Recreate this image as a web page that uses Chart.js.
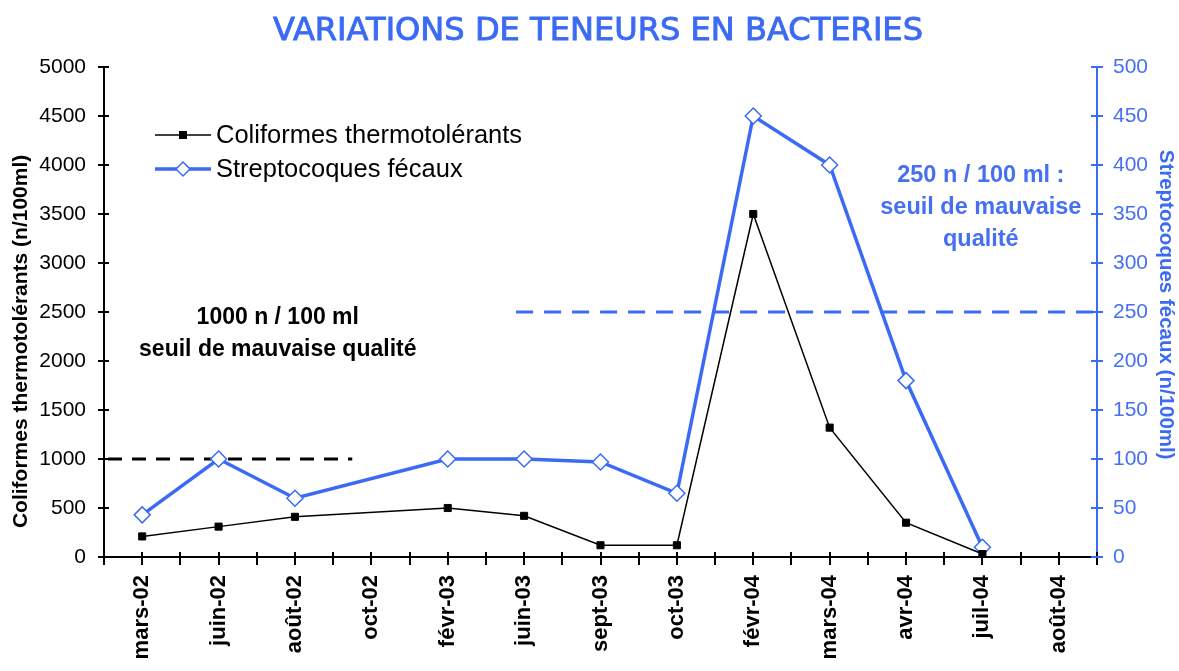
<!DOCTYPE html>
<html>
<head>
<meta charset="utf-8">
<script src="https://cdn.jsdelivr.net/npm/chart.js@4.4.1/dist/chart.umd.min.js"></script>
<style>
  html, body { margin: 0; padding: 0; background: #fff; }
  #wrap { width: 1179px; height: 671px; position: relative; }
</style>
</head>
<body>
<div id="wrap"><canvas id="chart"></canvas></div>
<script>
const months = ['mars-02','juin-02','août-02','oct-02','févr-03','juin-03','sept-03','oct-03','févr-04','mars-04','avr-04','juil-04','août-04'];
const coliformes = [210, 310, 410, null, 500, 420, 120, 120, 3500, 1320, 350, 30, null];
const streptocoques = [43, 100, 60, null, 100, 100, 97, 65, 450, 400, 180, 10, null];
const seuilColiformes = 1000;
const seuilStreptocoques = 250;
const chartTitle = 'VARIATIONS DE TENEURS EN BACTERIES';
const leftAxisTitle = 'Coliformes thermotolérants (n/100ml)';
const rightAxisTitle = 'Streptocoques fécaux (n/100ml)';
const noteColiformes = ['1000 n / 100 ml', 'seuil de mauvaise qualité'];
const noteStreptocoques = ['250 n / 100 ml :', 'seuil de mauvaise', 'qualité'];

const BLUE = '#3b6af5';
const BLUE_TXT = '#4670f2';
const FONT = '"Liberation Sans", Arial, sans-serif';

// ticks crossing the axes, dashed thresholds, notes, legend, titles
const decor = {
  id: 'decor',
  beforeDatasetsDraw(chart) {
    const { ctx, chartArea: a, scales: { y, y2 } } = chart;
    ctx.save();
    ctx.lineWidth = 3;
    ctx.setLineDash([14, 10]);
    ctx.strokeStyle = '#000';
    let py = y.getPixelForValue(seuilColiformes);
    ctx.beginPath(); ctx.moveTo(a.left + 4, py); ctx.lineTo(a.left + a.width * 0.25, py); ctx.stroke();
    ctx.strokeStyle = BLUE;
    ctx.setLineDash([17, 11]);
    py = y2.getPixelForValue(seuilStreptocoques);
    ctx.beginPath(); ctx.moveTo(a.left + a.width * 0.415, py); ctx.lineTo(a.right, py); ctx.stroke();
    ctx.restore();
  },
  afterDraw(chart) {
    const { ctx, chartArea: a, scales: { x, y, y2 } } = chart;
    ctx.save();
    ctx.lineWidth = 2;
    ctx.strokeStyle = '#000';
    y.ticks.forEach(t => {
      const py = Math.round(y.getPixelForValue(t.value));
      ctx.beginPath(); ctx.moveTo(a.left - 6, py); ctx.lineTo(a.left + 5, py); ctx.stroke();
    });
    const half = (x.getPixelForValue(1) - x.getPixelForValue(0)) / 2;
    for (let k = 0; k <= months.length * 2; k++) {
      const px = Math.round(a.left + k * half);
      ctx.beginPath(); ctx.moveTo(px, a.bottom - 5); ctx.lineTo(px, a.bottom + 8); ctx.stroke();
    }
    ctx.strokeStyle = BLUE;
    y2.ticks.forEach(t => {
      const py = Math.round(y2.getPixelForValue(t.value));
      ctx.beginPath(); ctx.moveTo(a.right - 6, py); ctx.lineTo(a.right + 6, py); ctx.stroke();
    });

    ctx.textAlign = 'center';
    ctx.textBaseline = 'middle';

    // axis titles
    ctx.font = 'bold 21px ' + FONT;
    ctx.fillStyle = '#000';
    ctx.save();
    ctx.translate(21, a.top + a.height * 0.56);
    ctx.rotate(-Math.PI / 2);
    ctx.fillText(leftAxisTitle, 0, 0);
    ctx.restore();
    ctx.font = 'bold 20.5px ' + FONT;
    ctx.fillStyle = BLUE;
    ctx.save();
    ctx.translate(1166, a.top + a.height * 0.485);
    ctx.rotate(Math.PI / 2);
    ctx.fillText(rightAxisTitle, 0, 0);
    ctx.restore();

    // notes
    ctx.font = 'bold 23px ' + FONT;
    ctx.fillStyle = '#000';
    ctx.fillText(noteColiformes[0], a.left + a.width * 0.175, 318);
    ctx.fillText(noteColiformes[1], a.left + a.width * 0.175, 350);
    ctx.font = 'bold 23.5px ' + FONT;
    ctx.fillStyle = BLUE_TXT;
    noteStreptocoques.forEach((s, i) => ctx.fillText(s, a.left + a.width * 0.883, 176 + i * 32));

    // legend
    const lx = 155, rows = [[135, '#000', 1.5, 'rect'], [169, BLUE, 3.5, 'rectRot']];
    const names = [chart.data.datasets[0].label, chart.data.datasets[1].label];
    rows.forEach(([ly, col, lw, shape], i) => {
      ctx.strokeStyle = col; ctx.lineWidth = lw;
      ctx.beginPath(); ctx.moveTo(lx, ly); ctx.lineTo(lx + 56, ly); ctx.stroke();
      if (shape === 'rect') {
        ctx.fillStyle = '#000'; ctx.fillRect(lx + 24, ly - 4, 8, 8);
      } else {
        ctx.fillStyle = '#fff'; ctx.lineWidth = 1.5;
        ctx.beginPath(); ctx.moveTo(lx + 28, ly - 7); ctx.lineTo(lx + 35, ly); ctx.lineTo(lx + 28, ly + 7); ctx.lineTo(lx + 21, ly); ctx.closePath();
        ctx.fill(); ctx.stroke();
      }
      ctx.fillStyle = '#000';
      ctx.textAlign = 'left';
      ctx.font = '25.5px ' + FONT;
      ctx.fillText(names[i], lx + 61, ly + 1);
    });

    // title
    ctx.font = '26px "DejaVu Sans", sans-serif';
    const w = ctx.measureText(chartTitle).width;
    const size = 26 * 650 / w;
    ctx.font = `${size.toFixed(1)}px "DejaVu Sans", sans-serif`;
    ctx.fillStyle = BLUE;
    ctx.strokeStyle = BLUE;
    ctx.lineWidth = 0.9;
    ctx.textAlign = 'center';
    ctx.fillText(chartTitle, 598, 32);
    ctx.strokeText(chartTitle, 598, 32);
    ctx.restore();
  }
};

new Chart(document.getElementById('chart'), {
  type: 'line',
  data: {
    labels: months,
    datasets: [
      {
        label: 'Coliformes thermotolérants',
        data: coliformes,
        yAxisID: 'y',
        borderColor: '#000',
        borderWidth: 1.5,
        pointStyle: 'rect',
        pointRadius: 5,
        pointBackgroundColor: '#000',
        pointBorderColor: '#000',
        pointBorderWidth: 1,
        spanGaps: true,
        tension: 0
      },
      {
        label: 'Streptocoques fécaux',
        data: streptocoques,
        yAxisID: 'y2',
        borderColor: BLUE,
        borderWidth: 3.5,
        pointStyle: 'rectRot',
        pointRadius: 8,
        pointBackgroundColor: '#fff',
        pointBorderColor: BLUE,
        pointBorderWidth: 1.5,
        spanGaps: true,
        tension: 0
      }
    ]
  },
  options: {
    responsive: true,
    maintainAspectRatio: false,
    animation: false,
    layout: { padding: { top: 67, left: 0, right: 0, bottom: 0 } },
    plugins: { legend: { display: false }, tooltip: { enabled: false }, title: { display: false } },
    scales: {
      x: {
        offset: true,
        grid: { display: false },
        border: { display: true, color: '#000', width: 2 },
        ticks: {
          color: '#000', maxRotation: 90, minRotation: 90, padding: 10, autoSkip: false,
          font: { family: FONT, size: 22, weight: 'bold' }
        },
        afterFit: s => { s.height = 114; }
      },
      y: {
        position: 'left',
        min: 0, max: 5000,
        grid: { display: false },
        border: { display: true, color: '#000', width: 2 },
        ticks: {
          stepSize: 500, color: '#000', padding: 10,
          callback: v => String(v),
          font: { family: FONT, size: 21 }
        },
        afterFit: s => { s.width = 104; }
      },
      y2: {
        position: 'right',
        min: 0, max: 500,
        grid: { display: false },
        border: { display: true, color: BLUE, width: 2 },
        ticks: {
          stepSize: 50, color: BLUE_TXT, padding: 8,
          callback: v => String(v),
          font: { family: FONT, size: 21 }
        },
        afterFit: s => { s.width = 82; }
      }
    }
  },
  plugins: [decor]
});
</script>
</body>
</html>
